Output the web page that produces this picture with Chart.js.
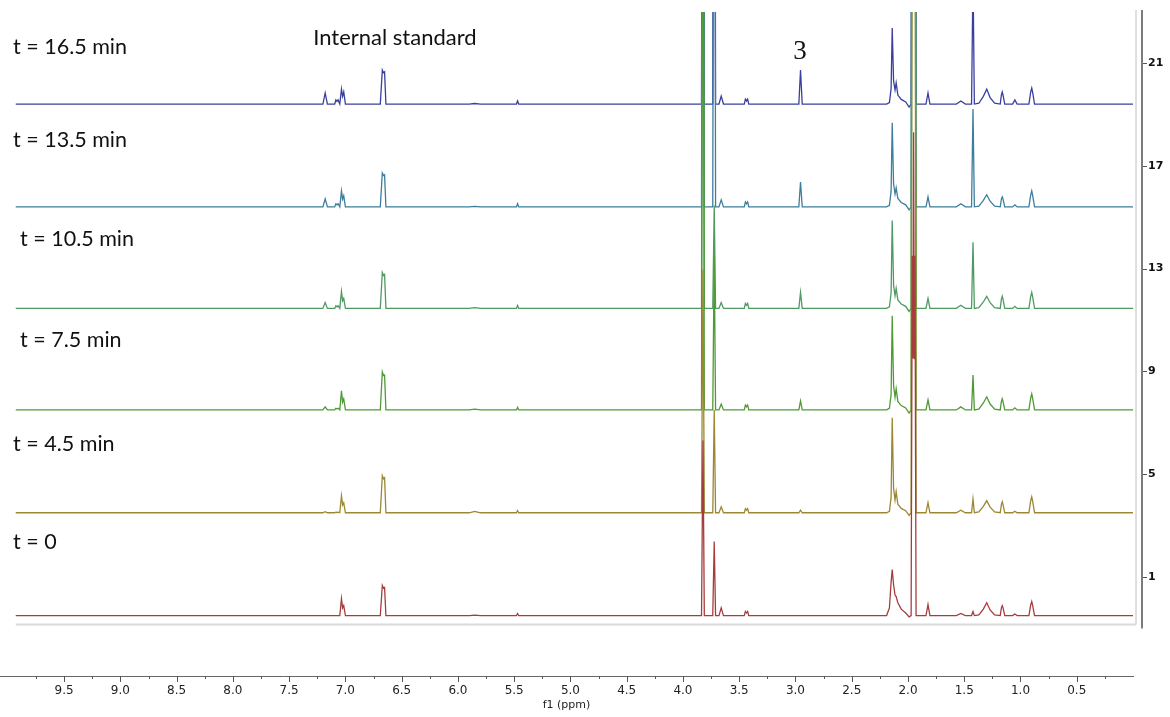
<!DOCTYPE html>
<html lang="en">
<head>
<meta charset="UTF-8">
<title>1H NMR time course</title>
<script src="https://cdn.jsdelivr.net/npm/chart.js"></script>
<style>
  html, body { margin: 0; padding: 0; background: #fff; }
  #wrap { position: relative; width: 1170px; height: 717px; }
</style>
</head>
<body>
<div id="wrap"><canvas id="nmrChart"></canvas></div>
<script>
// chemical shifts (ppm) where the intensity is read, shared by all spectra
const shifts = [
  9.93,
  7.20, 7.18, 7.16,
  7.095, 7.085, 7.075, 7.065, 7.05,
  7.035, 7.025, 7.015, 7.00,
  6.69, 6.672, 6.661, 6.652, 6.64,
  5.90, 5.85, 5.80,
  5.48, 5.47, 5.46,
  3.835, 3.822, 3.81,
  3.735, 3.722, 3.71,
  3.68, 3.66, 3.64,
  3.455, 3.445, 3.435, 3.425, 3.415,
  2.97, 2.955, 2.94,
  2.19, 2.165, 2.15, 2.14, 2.128, 2.115, 2.105, 2.09, 2.06, 2.02, 1.99,
  1.972, 1.962, 1.956, 1.950, 1.944, 1.938, 1.928,
  1.84, 1.822, 1.805,
  1.57, 1.53, 1.49,
  1.435, 1.422, 1.41,
  1.37, 1.33, 1.30, 1.27, 1.23,
  1.18, 1.17, 1.162, 1.155, 1.14,
  1.07, 1.05, 1.03,
  0.925, 0.91, 0.90, 0.892, 0.875,
  0.00
];

// intensity above each spectrum's own baseline
const int16_5 = [
  0,
  0, 0.43, 0,
  0, 0.16, 0.10, 0.16, 0,
  0.58, 0.30, 0.47, 0,
  0, 1.32, 1.22, 1.25, 0,
  0, 0.02, 0,
  0, 0.12, 0,
  0, 30, 0,
  0, 30, 0,
  0, 0.31, 0,
  0, 0.19, 0.12, 0.19, 0,
  0, 1.32, 0,
  0, 0.06, 0.6, 2.96, 0.9, 0.55, 0.82, 0.35, 0.18, 0.08, -0.12,
  0, 30, 20, 30, 20, 30, 0,
  0, 0.43, 0,
  0, 0.12, 0,
  0, 5.0, 0,
  0.03, 0.3, 0.58, 0.25, 0.03,
  0, 0.35, 0.47, 0.35, 0,
  0, 0.16, 0,
  0, 0.45, 0.62, 0.45, 0,
  0
];
const int13_5 = [
  0,
  0, 0.31, 0,
  0, 0.12, 0.08, 0.12, 0,
  0.62, 0.30, 0.43, 0,
  0, 1.32, 1.22, 1.25, 0,
  0, 0.02, 0,
  0, 0.12, 0,
  0, 30, 0,
  0, 30, 0,
  0, 0.27, 0,
  0, 0.19, 0.12, 0.19, 0,
  0, 0.97, 0,
  0, 0.06, 0.6, 3.27, 0.9, 0.5, 0.74, 0.33, 0.17, 0.08, -0.12,
  0, 30, 20, 30, 20, 30, 0,
  0, 0.39, 0,
  0, 0.12, 0,
  0, 3.81, 0,
  0.03, 0.25, 0.47, 0.22, 0.03,
  0, 0.3, 0.39, 0.3, 0,
  0, 0.08, 0,
  0, 0.45, 0.62, 0.45, 0,
  0
];
const int10_5 = [
  0,
  0, 0.23, 0,
  0, 0.10, 0.06, 0.10, 0,
  0.66, 0.30, 0.39, 0,
  0, 1.40, 1.28, 1.32, 0,
  0, 0.03, 0,
  0, 0.12, 0,
  0, 30, 0,
  0, 4.0, 0,
  0, 0.23, 0,
  0, 0.19, 0.12, 0.19, 0,
  0, 0.62, 0,
  0, 0.06, 0.6, 3.42, 0.9, 0.5, 0.78, 0.33, 0.17, 0.08, -0.12,
  0, 30, 20, 30, 20, 30, 0,
  0, 0.39, 0,
  0, 0.12, 0,
  0, 2.57, 0,
  0.03, 0.25, 0.47, 0.22, 0.03,
  0, 0.35, 0.47, 0.35, 0,
  0, 0.08, 0,
  0, 0.45, 0.62, 0.45, 0,
  0
];
const int7_5 = [
  0,
  0, 0.12, 0,
  0, 0.06, 0.04, 0.06, 0,
  0.74, 0.30, 0.43, 0,
  0, 1.48, 1.34, 1.36, 0,
  0, 0.03, 0,
  0, 0.10, 0,
  0, 30, 0,
  0, 6.0, 0,
  0, 0.23, 0,
  0, 0.19, 0.12, 0.19, 0,
  0, 0.35, 0,
  0, 0.06, 0.6, 3.66, 0.95, 0.5, 0.82, 0.33, 0.17, 0.08, -0.12,
  0, 30, 20, 30, 20, 30, 0,
  0, 0.39, 0,
  0, 0.12, 0,
  0, 1.36, 0,
  0.03, 0.27, 0.51, 0.23, 0.03,
  0, 0.32, 0.43, 0.32, 0,
  0, 0.08, 0,
  0, 0.45, 0.62, 0.45, 0,
  0
];
const int4_5 = [
  0,
  0, 0.04, 0,
  0, 0.02, 0.01, 0.02, 0,
  0.66, 0.30, 0.39, 0,
  0, 1.44, 1.32, 1.36, 0,
  0, 0.05, 0,
  0, 0.08, 0,
  0, 9.46, 0,
  0, 4.0, 0,
  0, 0.23, 0,
  0, 0.16, 0.1, 0.16, 0,
  0, 0.1, 0,
  0, 0.06, 0.6, 3.70, 0.95, 0.5, 0.82, 0.33, 0.17, 0.08, -0.1,
  0, 30, 20, 30, 20, 30, 0,
  0, 0.39, 0,
  0, 0.1, 0,
  0, 0.54, 0,
  0.03, 0.25, 0.47, 0.22, 0.03,
  0, 0.32, 0.43, 0.32, 0,
  0, 0.06, 0,
  0, 0.45, 0.62, 0.45, 0,
  0
];
const int0 = [
  0,
  0, 0, 0,
  0, 0, 0, 0, 0,
  0.66, 0.30, 0.39, 0,
  0, 1.17, 1.06, 1.09, 0,
  0, 0.02, 0,
  0, 0.08, 0,
  0, 6.81, 0,
  0, 2.88, 0,
  0, 0.3, 0,
  0, 0.16, 0.1, 0.16, 0,
  0, 0, 0,
  0, 0.3, 1.3, 1.79, 1.2, 0.8, 0.74, 0.5, 0.25, 0.1, -0.05,
  0, 14, 10, 18.8, 10, 14, 0,
  0, 0.43, 0,
  0, 0.08, 0,
  0, 0.16, 0,
  0.03, 0.25, 0.5, 0.22, 0.03,
  0, 0.3, 0.39, 0.3, 0,
  0, 0.06, 0,
  0, 0.4, 0.55, 0.4, 0,
  0
];

const timeLabels = ['t = 16.5 min', 't = 13.5 min', 't = 10.5 min', 't = 7.5 min', 't = 4.5 min', 't = 0'];
const spectra = [int16_5, int13_5, int10_5, int7_5, int4_5, int0];
const offsets = [19.4, 15.4, 11.45, 7.5, 3.5, -0.5];   // stacking baseline on the right axis
const colors = ['#3a3f9f', '#3d7d9e', '#4e9a62', '#4f9a35', '#9c8733', '#a63d3d'];
const ppmTicks = [9.5, 9.0, 8.5, 8.0, 7.5, 7.0, 6.5, 6.0, 5.5, 5.0, 4.5, 4.0, 3.5, 3.0, 2.5, 2.0, 1.5, 1.0, 0.5];
const rightTicks = [1, 5, 9, 13, 17, 21];

const datasets = spectra.map((vals, i) => ({
  label: timeLabels[i],
  data: shifts.map((s, j) => ({ x: s, y: offsets[i] + vals[j] })),
  borderColor: colors[i],
  borderWidth: 1.3,
  pointRadius: 0,
  tension: 0,
  fill: false,
  order: spectra.length - 1 - i   // t = 0 drawn on top
}));

// extra drawing: frame rules, tick marks and the text labels
const decorations = {
  id: 'decorations',
  afterDraw(chart) {
    const { ctx, chartArea: a, scales: { x, y } } = chart;
    const frameBottom = y.getPixelForValue(-0.85);
    ctx.save();

    ctx.strokeStyle = '#dadada';
    ctx.lineWidth = 2;
    ctx.beginPath();
    ctx.moveTo(x.getPixelForValue(shifts[0]), frameBottom);
    ctx.lineTo(a.right + 3, frameBottom);
    ctx.stroke();

    ctx.strokeStyle = '#d4d4d4';
    ctx.lineWidth = 1.5;
    ctx.beginPath();
    ctx.moveTo(a.right + 3, a.top - 2);
    ctx.lineTo(a.right + 3, frameBottom);
    ctx.stroke();

    ctx.strokeStyle = '#7c7c7c';
    ctx.lineWidth = 2;
    ctx.beginPath();
    ctx.moveTo(a.right + 9, a.top - 2);
    ctx.lineTo(a.right + 9, frameBottom + 4);
    ctx.stroke();

    ctx.lineWidth = 1;
    ctx.strokeStyle = '#555';
    rightTicks.forEach(v => {
      const py = Math.round(y.getPixelForValue(v)) + 0.5;
      ctx.beginPath();
      ctx.moveTo(a.right + 10, py);
      ctx.lineTo(a.right + 14, py);
      ctx.stroke();
    });

    // bottom axis: major ticks on labels, minor ticks halfway
    ppmTicks.forEach(v => {
      const px = Math.round(x.getPixelForValue(v)) + 0.5;
      ctx.beginPath();
      ctx.moveTo(px, a.bottom);
      ctx.lineTo(px, a.bottom + 6);
      ctx.stroke();
      const mx = Math.round(x.getPixelForValue(v + 0.25)) + 0.5;
      ctx.beginPath();
      ctx.moveTo(mx, a.bottom);
      ctx.lineTo(mx, a.bottom + 3);
      ctx.stroke();
    });
    const lastMinor = Math.round(x.getPixelForValue(ppmTicks[ppmTicks.length - 1] - 0.25)) + 0.5;
    ctx.beginPath();
    ctx.moveTo(lastMinor, a.bottom);
    ctx.lineTo(lastMinor, a.bottom + 3);
    ctx.stroke();

    // time labels on the left
    ctx.fillStyle = '#111';
    ctx.textBaseline = 'middle';
    ctx.textAlign = 'left';
    ctx.font = '21.5px Lato';
    const lift = [2.23, 2.61, 2.71, 2.73, 2.68, 2.87];
    const indent = [13, 13, 20, 20, 13, 13];
    timeLabels.forEach((t, i) => {
      ctx.fillText(t, indent[i], y.getPixelForValue(offsets[i] + lift[i]));
    });

    ctx.font = '22px Lato';
    ctx.textAlign = 'center';
    ctx.fillText('Internal standard', x.getPixelForValue(6.56), y.getPixelForValue(21.97));

    ctx.font = '27px "Liberation Serif"';
    ctx.fillText('3', x.getPixelForValue(2.96), y.getPixelForValue(21.42));
    ctx.restore();
  }
};

new Chart(document.getElementById('nmrChart'), {
  type: 'line',
  data: { datasets },
  options: {
    responsive: true,
    maintainAspectRatio: false,
    animation: false,
    layout: { padding: { top: 12, left: 0, right: 0, bottom: 0 } },
    plugins: { legend: { display: false }, tooltip: { enabled: false } },
    scales: {
      x: {
        type: 'linear',
        reverse: true,
        min: 0,
        max: 10.07,
        afterBuildTicks: s => { s.ticks = ppmTicks.map(v => ({ value: v })); },
        afterFit: s => { s.height = 41; },
        ticks: {
          callback: v => v.toFixed(1),
          autoSkip: false,
          maxRotation: 0,
          padding: 8,
          color: '#222',
          font: { family: 'DejaVu Sans', size: 12 }
        },
        grid: { drawOnChartArea: false, drawTicks: false },
        border: { color: '#666', width: 1 },
        title: {
          display: true,
          text: 'f1 (ppm)',
          color: '#222',
          font: { family: 'DejaVu Sans', size: 11 },
          padding: { top: 0, bottom: 5 }
        }
      },
      y: {
        type: 'linear',
        position: 'right',
        min: -2.85,
        max: 22.98,
        afterBuildTicks: s => { s.ticks = rightTicks.map(v => ({ value: v })); },
        afterFit: s => { s.width = 37; s.paddingTop = 0; s.paddingBottom = 0; },
        ticks: {
          padding: 15,
          color: '#111',
          font: { family: 'DejaVu Sans', size: 11, weight: 'bold' }
        },
        grid: { drawOnChartArea: false, drawTicks: false },
        border: { display: false }
      }
    }
  },
  plugins: [decorations]
});
</script>
</body>
</html>
